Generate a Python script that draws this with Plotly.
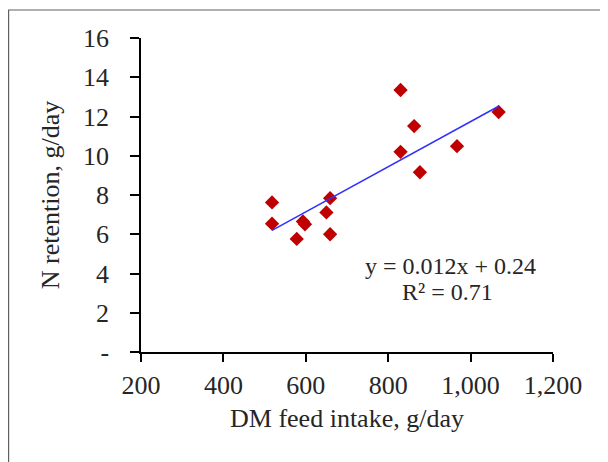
import plotly.graph_objects as go

# Data
dm_intake = [518, 518, 578, 593, 598, 650, 659, 659, 830, 863, 830, 877, 967, 1068]
n_retention = [7.62, 6.54, 5.76, 6.65, 6.51, 7.11, 7.84, 6.00, 13.35, 11.51, 10.20, 9.16, 10.49, 12.23]

trend_slope = 0.0115
trend_intercept = 0.24

x_ticks = [200, 400, 600, 800, 1000, 1200]
x_tick_labels = ["200", "400", "600", "800", "1,000", "1,200"]
y_ticks = [0, 2, 4, 6, 8, 10, 12, 14, 16]
y_tick_labels = ["-", "2", "4", "6", "8", "10", "12", "14", "16"]

eq_text = "y = 0.012x + 0.24"
r2_text = "R² = 0.71"

# page body has an 8px margin, so the figure is offset by 8px
OFF = 8
W, H = 608 - OFF, 462 - OFF
L, R, T, B = 133, 55, 30, 110
PW, PH = W - L - R, H - T - B

FONT = "Liberation Serif"
TXT = "#262626"
TICK_SIZE = 26


def page_x(px):
    return (px - OFF - L) / PW


def page_y(py):
    return 1 - (py - OFF - T) / PH


x_line = [min(dm_intake), max(dm_intake)]
y_line = [trend_slope * v + trend_intercept for v in x_line]

fig = go.Figure()
fig.add_trace(go.Scatter(
    x=dm_intake, y=n_retention, mode="markers",
    marker=dict(symbol="diamond", size=11, color="#C00000"),
    showlegend=False, hoverinfo="skip"))
fig.add_trace(go.Scatter(
    x=x_line, y=y_line, mode="lines",
    line=dict(color="#3030FF", width=1.5),
    showlegend=False, hoverinfo="skip"))

# outer frame (left and top visible)
fig.add_shape(type="rect", xref="paper", yref="paper",
              x0=page_x(8.6), x1=page_x(700),
              y0=page_y(600), y1=page_y(10),
              line=dict(color="#606060", width=1.2), layer="below")

fig.add_annotation(x=page_x(450), y=page_y(266), xref="paper", yref="paper",
                   xanchor="center", yanchor="middle",
                   text=eq_text, showarrow=False,
                   font=dict(family=FONT, size=24, color=TXT))
fig.add_annotation(x=page_x(447), y=page_y(292), xref="paper", yref="paper",
                   xanchor="center", yanchor="middle",
                   text=r2_text, showarrow=False,
                   font=dict(family=FONT, size=24, color=TXT))

fig.update_layout(
    width=W, height=H,
    margin=dict(l=L, r=R, t=T, b=B, pad=0),
    paper_bgcolor="white", plot_bgcolor="white",
    font=dict(family=FONT, size=TICK_SIZE, color=TXT),
    xaxis=dict(range=[200, 1200], tickvals=x_ticks, ticktext=x_tick_labels,
               showline=True, linecolor="black", linewidth=1.5,
               ticks="outside", ticklen=8, tickwidth=1.5, tickcolor="black",
               showgrid=False, zeroline=False,
               ticklabelstandoff=1,
               title=dict(text="DM feed intake, g/day", standoff=10,
                          font=dict(family=FONT, size=26, color=TXT)),
               tickfont=dict(family=FONT, size=TICK_SIZE, color=TXT)),
    yaxis=dict(range=[0, 16], tickvals=y_ticks, ticktext=y_tick_labels,
               showline=True, linecolor="black", linewidth=1.5,
               ticks="outside", ticklen=9, tickwidth=1.5, tickcolor="black",
               showgrid=False, zeroline=False,
               ticklabelstandoff=16,
               title=dict(text="N retention, g/day", standoff=16,
                          font=dict(family=FONT, size=26, color=TXT)),
               tickfont=dict(family=FONT, size=TICK_SIZE, color=TXT)),
)

fig.write_html("out.html")
